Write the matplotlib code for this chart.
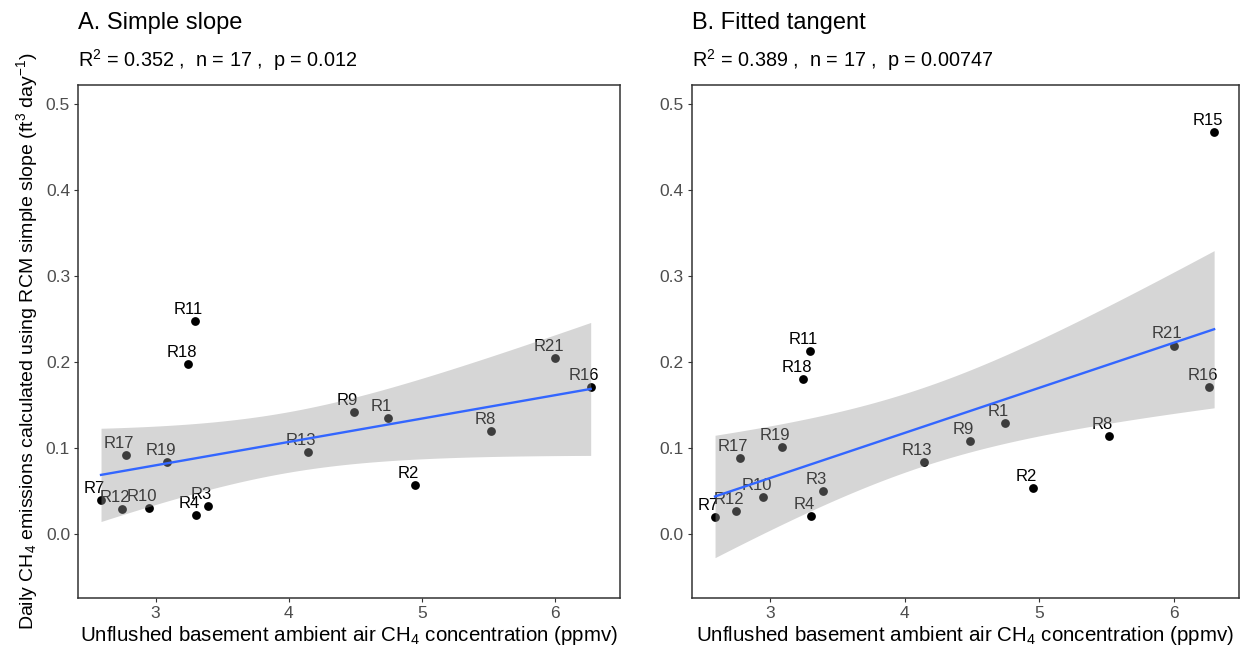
import numpy as np
import matplotlib
matplotlib.use("Agg")
import matplotlib.pyplot as plt

plt.rcParams['font.family'] = ['Liberation Sans', 'DejaVu Sans']
plt.rcParams['mathtext.default'] = 'regular'

# ---------------- data ----------------
sites = ['R1', 'R2', 'R3', 'R4', 'R7', 'R8', 'R9', 'R10', 'R11', 'R12',
         'R13', 'R15', 'R16', 'R17', 'R18', 'R19', 'R21']
conc_ppmv = [4.745, 4.95, 3.39, 3.30, 2.59, 5.52, 4.485, 2.947, 3.295, 2.744,
             4.14, 6.30, 6.265, 2.774, 3.246, 3.087, 6.00]
emis_simple = [0.135, 0.057, 0.032, 0.022, 0.039, 0.119, 0.142, 0.030, 0.247, 0.029,
               0.095, np.nan, 0.171, 0.092, 0.198, 0.083, 0.205]
emis_tangent = [0.129, 0.053, 0.050, 0.021, 0.020, 0.114, 0.108, 0.043, 0.213, 0.027,
                0.084, 0.467, 0.171, 0.088, 0.180, 0.1015, 0.219]

titles = ['A. Simple slope', 'B. Fitted tangent']
subtitles = [r'R$^2$ = 0.352 ,  n = 17 ,  p = 0.012',
             r'R$^2$ = 0.389 ,  n = 17 ,  p = 0.00747']
x_ticks = [3, 4, 5, 6]
y_ticks = [0.0, 0.1, 0.2, 0.3, 0.4, 0.5]
xlabel = r'Unflushed basement ambient air CH$_4$ concentration (ppmv)'
ylabel = r'Daily CH$_4$ emissions calculated using RCM simple slope (ft$^3$ day$^{-1}$)'

# Student t 97.5% quantiles by degrees of freedom
t975 = {13: 2.1604, 14: 2.1448, 15: 2.1314, 16: 2.1199}

W, H = 1243, 652
fig = plt.figure(figsize=(W / 100, H / 100), dpi=100)

panels = [(77.7, 620.0), (691.5, 1239.0)]
top_px, bot_px = 85.0, 598.3

for i, (ys, (l, r)) in enumerate(zip([emis_simple, emis_tangent], panels)):
    ax = fig.add_axes([l / W, 1 - bot_px / H, (r - l) / W, (bot_px - top_px) / H])
    x = np.array(conc_ppmv, float)
    y = np.array(ys, float)
    ok = ~np.isnan(y)
    xv, yv = x[ok], y[ok]
    names = [s for s, k in zip(sites, ok) if k]

    ax.scatter(xv, yv, s=40, color='black', zorder=2, linewidths=0)
    for nm, xi, yi in zip(names, xv, yv):
        ax.annotate(nm, (xi, yi), xytext=(-4.8, 8.3), textcoords='offset points',
                    ha='center', va='center', fontsize=12, color='black', zorder=3)

    # linear fit with 95% confidence band
    n = len(xv)
    b, a = np.polyfit(xv, yv, 1)
    resid = yv - (a + b * xv)
    s = np.sqrt(np.sum(resid ** 2) / (n - 2))
    xm = xv.mean()
    sxx = np.sum((xv - xm) ** 2)
    xs = np.linspace(xv.min(), xv.max(), 80)
    fit = a + b * xs
    se = s * np.sqrt(1 / n + (xs - xm) ** 2 / sxx)
    band = t975[n - 2] * se
    ax.fill_between(xs, fit - band, fit + band, color='#999999', alpha=0.4,
                    linewidth=0, zorder=4)
    ax.plot(xs, fit, color='#3366FF', lw=1.7, zorder=5)

    ax.set_xlim(2.415, 6.485)
    ax.set_ylim(-0.075, 0.522)
    ax.set_xticks(x_ticks)
    ax.set_xticklabels([str(t) for t in x_ticks])
    ax.set_yticks(y_ticks)
    ax.set_yticklabels([f'{t:.1f}' for t in y_ticks])
    ax.tick_params(direction='out', length=3, width=0.8, color='#333333',
                   labelcolor='#4D4D4D', labelsize=12.5, pad=2.5)
    for sp in ax.spines.values():
        sp.set_color('#333333')
        sp.set_linewidth(1.1)
    ax.set_xlabel(xlabel, fontsize=14.8, labelpad=2)
    if i == 0:
        ax.set_ylabel(ylabel, fontsize=14, labelpad=4)

    fig.text(l / W, 1 - 29 / H, titles[i], fontsize=17, ha='left', va='baseline')
    fig.text(l / W, 1 - 66.5 / H, subtitles[i], fontsize=14.3, ha='left', va='baseline')

fig.savefig('out.png', dpi=100)
